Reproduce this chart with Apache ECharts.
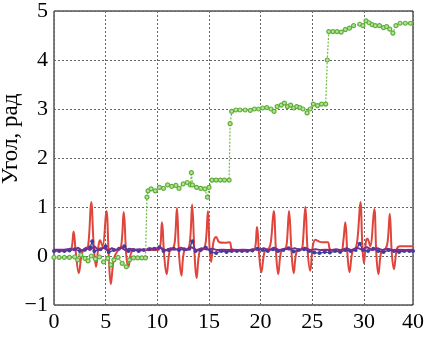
<!DOCTYPE html>
<html>
<head>
<meta charset="utf-8">
<script src="https://cdn.jsdelivr.net/npm/echarts@6/dist/echarts.min.js"></script>
<style>
html,body{margin:0;padding:0;background:#fff;}
#chart{width:435px;height:339px;}
</style>
</head>
<body>
<div id="chart"></div>
<script>
// x ticks (grid positions) and their printed labels as in the reference
const xTicks = [0, 5, 10, 15, 20, 25, 30, 34.75];
const xTickLabels = ['0', '5', '10', '15', '20', '25', '30', '40'];
const yTicks = [-1, 0, 1, 2, 3, 4, 5];
const yTickLabels = ['\u22121', '0', '1', '2', '3', '4', '5'];
const yAxisName = 'Угол, рад';

const greenSeries = [
[0,-0.03],[0.5,-0.03],[1,-0.03],[1.5,-0.03],[2,-0.02],[2.3,-0.08],[2.6,0.02],[3.0,-0.05],[3.3,-0.1],[3.6,0.0],[4.0,-0.06],[4.4,-0.02],[4.8,-0.12],[5.2,-0.05],[5.5,-0.18],[5.8,-0.08],[6.2,-0.03],[6.6,-0.15],[7.0,-0.22],[7.3,-0.08],[7.7,-0.04],[8.1,-0.04],[8.5,-0.04],[8.85,-0.04],
[9.0,1.2],[9.1,1.33],[9.4,1.37],[9.8,1.33],[10.2,1.4],[10.6,1.38],[11.0,1.45],[11.4,1.42],[11.8,1.44],[12.1,1.38],[12.5,1.47],[12.9,1.5],[13.2,1.45],[13.3,1.7],[13.4,1.45],[13.8,1.4],[14.2,1.38],[14.6,1.37],[14.85,1.2],[15.0,1.4],[15.3,1.55],[15.7,1.55],[16.1,1.55],[16.5,1.55],[16.95,1.55],
[17.05,2.7],[17.2,2.95],[17.6,2.98],[18.0,2.98],[18.5,2.98],[19.0,2.97],[19.4,3.0],[19.8,3.0],[20.2,3.02],[20.6,3.03],[21.0,3.0],[21.3,2.95],[21.6,3.05],[22.0,3.08],[22.3,3.12],[22.6,3.05],[22.9,3.08],[23.2,3.02],[23.5,3.05],[23.8,3.03],[24.1,3.0],[24.5,2.92],[24.8,3.0],[25.1,3.1],[25.5,3.07],[25.9,3.1],[26.3,3.1],
[26.45,4.0],[26.6,4.58],[27.0,4.58],[27.4,4.58],[27.8,4.57],[28.2,4.62],[28.6,4.65],[29.0,4.7],[29.6,4.73],[29.9,4.7],[30.2,4.8],[30.5,4.76],[30.8,4.72],[31.1,4.7],[31.5,4.7],[31.9,4.66],[32.2,4.68],[32.5,4.63],[32.8,4.55],[33.1,4.7],[33.5,4.75],[34.0,4.75],[34.5,4.75]
];

const redSeries = [
[0,0.12],[1.5,0.12],
[1.7,0.15],[1.9,0.5],[2.1,0.1],[2.4,-0.35],[2.7,0.05],[3.0,0.15],
[3.3,0.2],[3.6,1.1],[3.85,0.2],[4.07,-0.22],[4.3,0.2],[4.45,0.32],[4.7,0.2],
[5.07,0.92],[5.3,0.0],[5.5,-0.57],[5.8,-0.05],[6.2,0.12],
[6.5,0.2],[6.75,0.9],[7.0,0.0],[7.2,-0.22],[7.5,0.08],[8.0,0.12],
[10.1,0.12],[10.45,0.69],[10.65,0.05],[10.9,-0.37],[11.2,0.1],[11.5,0.14],
[11.7,0.3],[11.9,0.98],[12.1,0.05],[12.33,-0.4],[12.6,0.1],[13.0,0.14],
[13.2,0.4],[13.37,1.05],[13.6,0.05],[13.8,-0.45],[14.1,0.1],[14.5,0.15],
[14.7,0.3],[14.9,0.92],[15.05,0.2],[15.2,-0.12],[15.45,0.3],[15.7,0.39],[16.0,0.28],[16.5,0.27],[17.0,0.28],[17.2,0.14],[17.5,0.12],
[19.3,0.12],[19.65,0.59],[19.85,0.05],[20.07,-0.33],[20.4,0.1],[20.8,0.15],
[21.0,0.3],[21.27,0.92],[21.5,0.05],[21.7,-0.37],[22.0,0.1],[22.4,0.15],
[22.55,0.3],[22.75,0.92],[23.0,0.05],[23.2,-0.35],[23.5,0.1],[24.0,0.15],
[24.1,0.3],[24.33,1.0],[24.55,0.1],[24.8,-0.3],[25.05,0.2],[25.3,0.33],[25.6,0.3],[26.0,0.28],[26.5,0.28],[26.7,0.14],[27.0,0.12],
[27.8,0.12],[28.0,0.3],[28.2,0.69],[28.4,0.05],[28.6,-0.33],[28.9,0.1],[29.2,0.15],
[29.4,0.4],[29.66,1.1],[29.85,0.2],[30.0,-0.15],[30.2,0.3],[30.35,0.35],[30.6,0.2],
[31.0,0.96],[31.2,0.05],[31.4,-0.37],[31.7,0.1],[32.1,0.15],
[32.3,0.3],[32.5,0.86],[32.7,0.05],[32.9,-0.27],[33.2,0.15],[33.5,0.2],[34.0,0.2],[34.75,0.2]
];

const blueSeries = [
[0,0.1],[0.5,0.1],[1,0.1],[1.5,0.11],[2,0.14],[2.5,0.1],[3,0.13],[3.5,0.18],[3.7,0.3],[3.9,0.1],[4.5,0.14],[5,0.2],[5.3,0.08],[5.8,0.12],[6.3,0.15],[6.8,0.2],[7.2,0.1],[7.7,0.12],[8.2,0.1],[8.7,0.12],[9.2,0.14],[9.7,0.15],[10.2,0.18],[10.6,0.1],[11.1,0.12],[11.6,0.15],[12.1,0.12],[12.6,0.14],[13.1,0.15],[13.4,0.3],[13.7,0.1],[14.2,0.12],[14.7,0.17],[15.2,0.08],[15.7,0.06],[16.2,0.1],[16.7,0.08],[17.2,0.1],[17.7,0.1],[18.2,0.1],[18.7,0.1],[19.2,0.11],[19.7,0.15],[20.2,0.12],[20.7,0.1],[21.2,0.14],[21.7,0.1],[22.2,0.12],[22.7,0.16],[23.2,0.09],[23.7,0.12],[24.2,0.14],[24.7,0.1],[25.2,0.07],[25.7,0.06],[26.2,0.08],[26.7,0.07],[27.2,0.1],[27.7,0.08],[28.2,0.12],[28.7,0.1],[29.2,0.12],[29.6,0.25],[29.9,0.12],[30.4,0.1],[30.9,0.15],[31.4,0.1],[31.9,0.08],[32.4,0.12],[32.9,0.1],[33.4,0.08],[33.9,0.1],[34.4,0.1],[34.75,0.1]
];

const purpleSeries = [
[0,0.13],[1,0.13],[1.6,0.15],[2.0,0.12],[2.3,0.17],[2.7,0.11],[3.1,0.16],[3.5,0.12],[3.9,0.2],[4.3,0.12],[4.8,0.17],[5.2,0.11],[5.6,0.16],[6.0,0.12],[6.5,0.17],[6.9,0.12],[7.3,0.15],[7.8,0.13],[8.3,0.14],[8.8,0.12],[9.3,0.16],[9.8,0.13],[10.3,0.17],[10.8,0.12],[11.3,0.16],[11.8,0.13],[12.3,0.17],[12.8,0.12],[13.3,0.18],[13.8,0.12],[14.3,0.16],[14.8,0.13],[15.3,0.15],[15.8,0.12],[16.3,0.13],[16.8,0.12],[17.3,0.13],[17.8,0.12],[18.3,0.13],[18.8,0.12],[19.3,0.14],[19.8,0.12],[20.3,0.16],[20.8,0.12],[21.3,0.17],[21.8,0.12],[22.3,0.15],[22.8,0.13],[23.3,0.16],[23.8,0.12],[24.3,0.17],[24.8,0.12],[25.3,0.14],[25.8,0.12],[26.3,0.13],[26.8,0.12],[27.3,0.14],[27.8,0.12],[28.3,0.16],[28.8,0.12],[29.3,0.17],[29.8,0.13],[30.3,0.18],[30.8,0.12],[31.3,0.16],[31.8,0.12],[32.3,0.15],[32.8,0.12],[33.3,0.13],[34.0,0.12],[34.75,0.13]
];

const FONT = "'Liberation Serif', 'Times New Roman', serif";
const chart = echarts.init(document.getElementById('chart'), null, {renderer: 'canvas'});
chart.setOption({
  animation: false,
  backgroundColor: '#fff',
  grid: {left: 54, right: 22, top: 11, bottom: 34, containLabel: false, outerBoundsMode: 'none',
         show: true, borderColor: '#000', borderWidth: 1},
  xAxis: {
    type: 'value', min: xTicks[0], max: xTicks[xTicks.length - 1], interval: 5,
    axisLine: {show: false}, axisTick: {show: false},
    axisLabel: {
      color: '#000', fontFamily: FONT, fontSize: 22, margin: 6,
      showMaxLabel: true,
      formatter: function (v) {
        const i = xTicks.findIndex(t => Math.abs(t - v) < 1e-6);
        return i >= 0 ? xTickLabels[i] : '';
      }
    },
    splitLine: {show: true, lineStyle: {color: '#666', type: [2, 2], width: 1}}
  },
  yAxis: {
    type: 'value', min: -1, max: 5, interval: 1,
    name: yAxisName, nameLocation: 'middle', nameGap: 32, nameRotate: 90, nameMoveOverlap: false,
    nameTextStyle: {color: '#000', fontFamily: FONT, fontSize: 23, padding: [0, 0, 0, 38]},
    axisLine: {show: false}, axisTick: {show: false},
    axisLabel: {
      color: '#000', fontFamily: FONT, fontSize: 22, margin: 6,
      formatter: function (v) {
        const i = yTicks.findIndex(t => Math.abs(t - v) < 1e-6);
        return i >= 0 ? yTickLabels[i] : '';
      }
    },
    splitLine: {show: true, lineStyle: {color: '#666', type: [2, 2], width: 1}}
  },
  series: [
    {type: 'line', data: redSeries, symbol: 'none', smooth: 0.4,
     lineStyle: {color: '#e0453c', width: 2}, z: 2},
    {type: 'line', data: blueSeries, symbol: 'circle', symbolSize: 4, showAllSymbol: true,
     lineStyle: {color: '#3a3f9e', width: 1.2}, itemStyle: {color: '#3a3f9e'}, z: 3},
    {type: 'line', data: purpleSeries, symbol: 'none',
     lineStyle: {color: '#7b2d8e', width: 2}, z: 4},
    {type: 'line', data: greenSeries, symbol: 'circle', symbolSize: 4, showAllSymbol: true,
     lineStyle: {color: '#6cbf45', width: 1.2, type: [2, 1.5]},
     itemStyle: {color: '#b8e0a0', borderColor: '#5cb035', borderWidth: 1.2}, z: 5}
  ]
});
</script>
</body>
</html>
